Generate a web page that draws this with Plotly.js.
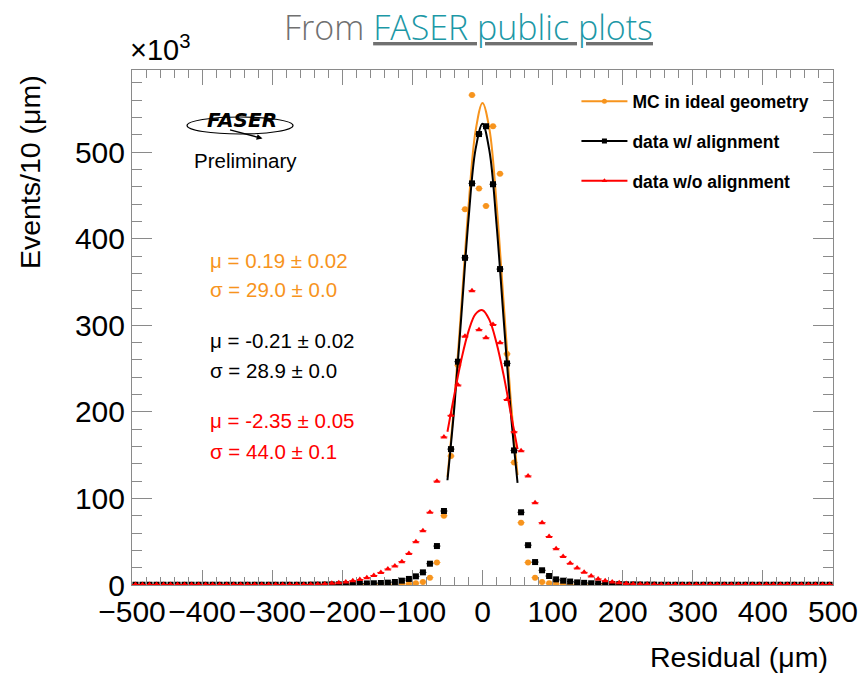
<!DOCTYPE html>
<html>
<head>
<meta charset="utf-8">
<script src="https://cdn.plot.ly/plotly-3.0.1.min.js"></script>
<style>html,body{margin:0;padding:0;background:#fff;}#chart{width:860px;height:673px;}</style>
</head>
<body>
<div id="chart"></div>
<script>
// Bin centres (residual, µm), 10 µm bins
const binCenters = [
 -495,-485,-475,-465,-455,-445,-435,-425,-415,-405,
 -395,-385,-375,-365,-355,-345,-335,-325,-315,-305,
 -295,-285,-275,-265,-255,-245,-235,-225,-215,-205,
 -195,-185,-175,-165,-155,-145,-135,-125,-115,-105,
 -95,-85,-75,-65,-55,-45,-35,-25,-15,-5,
 5,15,25,35,45,55,65,75,85,95,
 105,115,125,135,145,155,165,175,185,195,
 205,215,225,235,245,255,265,275,285,295,
 305,315,325,335,345,355,365,375,385,395,
 405,415,425,435,445,455,465,475,485,495];

// Events per bin (x10^3)
const mcIdeal = [
 0.1,0.1,0.1,0.1,0.1,0.1,0.1,0.1,0.1,0.1,
 0.1,0.1,0.1,0.1,0.1,0.1,0.1,0.1,0.1,0.1,
 0.1,0.1,0.1,0.1,0.1,0.15,0.15,0.2,0.2,0.25,
 0.3,0.35,0.4,0.5,0.6,0.7,0.8,0.9,1.0,1.3,
 2.0,3.5,8.5,26,80,149,254,434,566,458,
 438,530,475,267,141.6,72,26,8.5,3.5,2.0,
 1.3,1.0,0.9,0.8,0.7,0.6,0.5,0.4,0.35,0.3,
 0.25,0.2,0.2,0.15,0.15,0.1,0.1,0.1,0.1,0.1,
 0.1,0.1,0.1,0.1,0.1,0.1,0.1,0.1,0.1,0.1,
 0.1,0.1,0.1,0.1,0.1,0.1,0.1,0.1,0.1,0.1];

const dataAligned = [
 0.3,0.3,0.3,0.3,0.3,0.3,0.3,0.3,0.3,0.3,
 0.3,0.3,0.3,0.3,0.3,0.3,0.3,0.3,0.3,0.3,
 0.3,0.3,0.3,0.3,0.3,0.45,0.5,0.6,0.7,0.8,
 1.0,1.2,1.5,1.8,2.0,2.3,2.7,3.5,5.0,7.0,
 10,14.6,24.6,45,85.5,157,258,378,464,521,
 530,463,365,256,155.5,84,46,26.5,17,10.4,
 6.5,5.0,4.0,3.0,2.5,2.0,1.7,1.4,1.2,1.0,
 0.8,0.7,0.6,0.5,0.45,0.3,0.3,0.3,0.3,0.3,
 0.3,0.3,0.3,0.3,0.3,0.3,0.3,0.3,0.3,0.3,
 0.3,0.3,0.3,0.3,0.3,0.3,0.3,0.3,0.3,0.3];

const dataNoAlign = [
 0.5,0.5,0.5,0.5,0.5,0.5,0.5,0.5,0.5,0.5,
 0.5,0.5,0.5,0.5,0.5,0.5,0.5,0.5,0.5,0.5,
 0.5,0.5,0.5,0.5,0.5,0.7,0.8,1.2,2.0,2.7,
 3.5,5.0,6.3,8.5,11,14.5,18.5,22,27,36.5,
 50,62.7,84,120,171,196,231,287.5,340,295,
 285.6,301,280,214.3,177,155,126,95,72,56,
 42,33,25,19.5,14.6,10.4,7.0,5.0,3.5,2.5,
 1.7,1.2,1.0,0.8,0.7,0.5,0.5,0.5,0.5,0.5,
 0.5,0.5,0.5,0.5,0.5,0.5,0.5,0.5,0.5,0.5,
 0.5,0.5,0.5,0.5,0.5,0.5,0.5,0.5,0.5,0.5];

// Gaussian fit curves (x10^3), fit range -50..50
const fitX = [-50,-40,-30,-20,-10,0,10,20,30,40,50];
const fitMC = [125,213,324,437,524,557,526,441,328,217,127];
const fitAligned = [121,207,313,422,503,533,501,417,309,202.5,118];
const fitNoAlign = [177,220.5,261,293,313,317.5,306,279.5,243,200,157];

const seriesNames = ["MC in ideal geometry","data w/ alignment","data w/o alignment"];
const fitTexts = [
 ["μ = 0.19 ± 0.02","σ = 29.0 ± 0.0"],
 ["μ = -0.21 ± 0.02","σ = 28.9 ± 0.0"],
 ["μ = -2.35 ± 0.05","σ = 44.0 ± 0.1"]];
const xTicks = [-500,-400,-300,-200,-100,0,100,200,300,400,500];
const yTicks = [0,100,200,300,400,500];

const ORANGE = "#f7941d", BLACK = "#000000", RED = "#ff0000";
const FONT = "Liberation Sans, Arial, Helvetica, sans-serif";

function dataTrace(y, color, symbol, size){
  return {x: binCenters, y: y, type: "scatter", mode: "markers", showlegend: false,
    marker: {color: color, symbol: symbol, size: size},
    error_x: {type: "constant", value: 5, color: color, thickness: 1, width: 0},
    hoverinfo: "skip"};
}
function fitTrace(y, color){
  return {x: fitX, y: y, type: "scatter", mode: "lines", showlegend: false,
    line: {color: color, width: 2, shape: "spline"}, hoverinfo: "skip"};
}
function legTrace(name, color, symbol, g){
  return {x: [null], y: [null], type: "scatter", mode: "lines+markers", name: name,
    legendgroup: g, line: {color: color, width: 2}, marker: {color: color, symbol: symbol, size: 5}};
}

const traces = [
  dataTrace(mcIdeal, ORANGE, "circle", 6),
  fitTrace(fitMC, ORANGE),
  dataTrace(dataAligned, BLACK, "square", 6),
  fitTrace(fitAligned, BLACK),
  dataTrace(dataNoAlign, RED, "triangle-up", 6),
  fitTrace(fitNoAlign, RED),
  legTrace(seriesNames[0], ORANGE, "circle", "a"),
  legTrace(seriesNames[1], BLACK, "square", "b"),
  legTrace(seriesNames[2], RED, "triangle-up", "c")
];

const colors = [ORANGE, BLACK, RED];
const textY = [[0.631,0.573],[0.474,0.4156],[0.3185,0.260]];
const annotations = [];
for (let i = 0; i < 3; i++) {
  for (let j = 0; j < 2; j++) {
    annotations.push({xref: "paper", yref: "paper", x: 0.109, y: textY[i][j],
      xanchor: "left", yanchor: "middle", showarrow: false, text: fitTexts[i][j],
      font: {family: FONT, size: 20.5, color: colors[i]}});
  }
}
annotations.push(
  {xref:"paper", yref:"paper", x:0.4807, y:1.0835, xanchor:"center", yanchor:"middle", showarrow:false,
   text:"<span style='color:#707070'>From </span><u><span style='color:#1c98a6'>FASER public plots</span></u>",
   font:{family:"Open Sans, Lato, sans-serif", size:34, color:"#707070", weight:300}},
  {xref:"paper", yref:"paper", x:-0.006, y:1.042, xanchor:"left", yanchor:"middle", showarrow:false,
   text:"×10<sup>3</sup>", font:{family:FONT, size:29, color:"#000"}},
  {xref:"paper", yref:"paper", x:-0.1455, y:0.994, xanchor:"center", yanchor:"top", showarrow:false,
   textangle:-90, text:"Events/10 (μm)", font:{family:FONT, size:28.5, color:"#000"}},
  {xref:"paper", yref:"paper", x:0.9957, y:-0.14, xanchor:"right", yanchor:"middle", showarrow:false,
   text:"Residual (μm)", font:{family:FONT, size:28.5, color:"#000"}},
  {xref:"paper", yref:"paper", x:0.157, y:0.9035, xanchor:"center", yanchor:"middle", showarrow:false,
   text:"<b><i>FASER</i></b>", font:{family:"DejaVu Sans, Liberation Sans, sans-serif", size:20, color:"#000"}},
  {xref:"paper", yref:"paper", x:0.1862, y:0.867, showarrow:true, text:"",
   ax:-34, ay:-9, arrowhead:2, arrowsize:0.9, arrowwidth:1.3, arrowcolor:"#000"},
  {xref:"paper", yref:"paper", x:0.1612, y:0.825, xanchor:"center", yanchor:"middle", showarrow:false,
   text:"Preliminary", font:{family:FONT, size:20.5, color:"#000"}}
);

const shapes = [
  {type:"circle", xref:"paper", yref:"paper", x0:0.0785, x1:0.2297, y0:0.8757, y1:0.9087,
   line:{color:"#000", width:1.2}, layer:"above"}
];

const axisCommon = {
  showgrid: false, zeroline: false, showline: true, linecolor: "#8a8a8a", linewidth: 1,
  mirror: "allticks", ticks: "inside", tickcolor: "#8a8a8a", tickwidth: 1,
  tickfont: {family: FONT, size: 30, color: "#000"}
};

const layout = {
  width: 860, height: 673,
  margin: {l: 132, r: 27, t: 70, b: 88, pad: 0},
  paper_bgcolor: "#fff", plot_bgcolor: "#fff",
  showlegend: true,
  legend: {x: 0.634, y: 0.974, xanchor: "left", yanchor: "top", bgcolor: "rgba(0,0,0,0)",
    font: {family: FONT, size: 17.5, color: "#000", weight: "bold"},
    tracegroupgap: 14, itemwidth: 46, traceorder: "grouped"},
  xaxis: Object.assign({}, axisCommon, {range: [-500, 500], tickvals: xTicks, ticklen: 15,
    minor: {ticks: "inside", dtick: 20, tick0: 0, ticklen: 8, tickcolor: "#8a8a8a", tickwidth: 1}}),
  yaxis: Object.assign({}, axisCommon, {range: [0, 595], tickvals: yTicks, ticklen: 20,
    minor: {ticks: "inside", dtick: 20, tick0: 0, ticklen: 10, tickcolor: "#8a8a8a", tickwidth: 1}}),
  annotations: annotations,
  shapes: shapes
};

Plotly.newPlot("chart", traces, layout, {displayModeBar: false, staticPlot: true});
</script>
</body>
</html>
